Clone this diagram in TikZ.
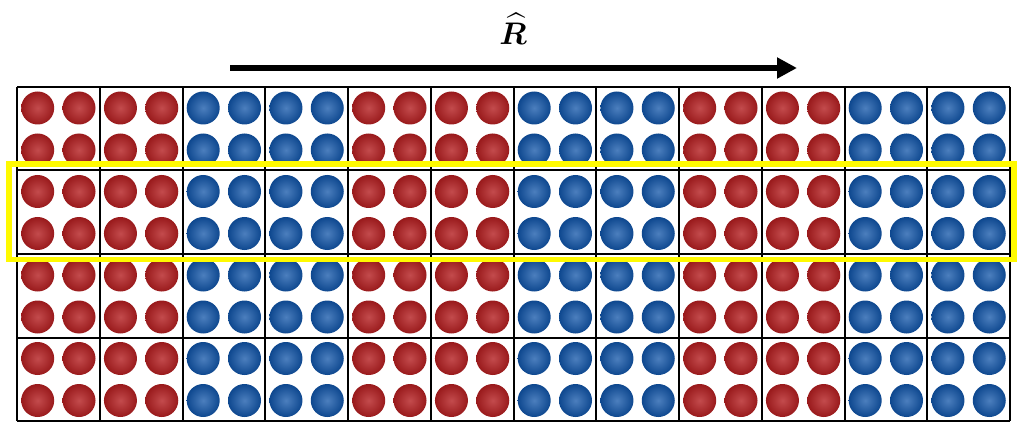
\RequirePackage{fix-cm}
\documentclass[tikz,border=0pt]{standalone}
\usepackage{amsmath}
\usepackage{bm}
\usepackage{graphicx}
\usetikzlibrary{arrows.meta}
\definecolor{myred}{RGB}{180,30,32}
\definecolor{myblue}{RGB}{16,84,168}
\definecolor{hlyellow}{RGB}{255,250,0}
\tikzset{
  redball/.style={shading=radial, inner color=myred!80!white, outer color=myred!85!black},
  blueball/.style={shading=radial, inner color=myblue!75!white, outer color=myblue!85!black},
  gridline/.style={line width=2pt, black},
  highlight/.style={draw=hlyellow, line width=5.5pt},
  bigarrow/.style={line width=6pt, -{Triangle[length=20pt,width=20pt]}}
}
\begin{document}
\begin{tikzpicture}[x=1pt,y=-1pt]
\useasboundingbox (0,0) rectangle (1017,422);
\fill[white] (0,0) rectangle (1017,422);
\def\cw{82.75}
\def\ch{83.5}
% balls
\foreach \c in {0,...,11} {
  \pgfmathtruncatemacro\isred{mod(\c,4)<2 ? 1 : 0}
  \ifnum\isred=1 \def\bst{redball}\else\def\bst{blueball}\fi
  \foreach \r in {0,...,3} {
    \foreach \i in {0,1} {
      \foreach \j in {0,1} {
        \shade[\bst] ({17+\c*\cw+20.7+\i*41.3},{87+\r*\ch+21+\j*42}) circle (16.5);
      }
    }
  }
}
% grid
\foreach \c in {0,...,12} {
  \draw[gridline] ({17+\c*\cw},87) -- ({17+\c*\cw},421);
}
\foreach \r in {0,...,4} {
  \draw[gridline] (17,{87+\r*\ch}) -- (1010,{87+\r*\ch});
}
% highlight
\draw[highlight] (9,164) rectangle (1014,259.5);
% arrow
\coordinate (a0) at (230,68);
\coordinate (a1) at (797,68);
\draw[bigarrow] (a0) -- (a1);
\node[inner sep=0pt] (R) at (513,29) {\scalebox{1.3}{\fontsize{24}{26}\selectfont $\boldsymbol{\widehat{R}}$}};
\end{tikzpicture}
\end{document}
